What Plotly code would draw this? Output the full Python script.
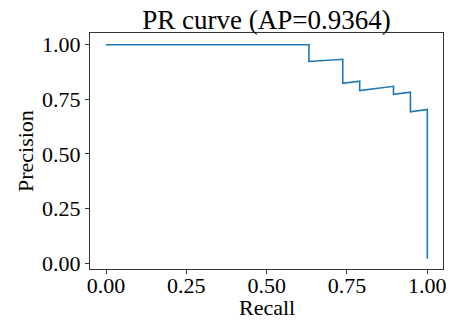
import plotly.graph_objects as go

recall = [0.0, 0.6316, 0.6316, 0.7368, 0.7368, 0.7895, 0.7895, 0.8947, 0.8947, 0.9474, 0.9474, 1.0, 1.0]
precision = [1.0, 1.0, 0.9231, 0.9333, 0.8235, 0.8333, 0.7895, 0.8095, 0.7727, 0.7826, 0.6923, 0.7037, 0.019]
x_ticks = [0.0, 0.25, 0.5, 0.75, 1.0]
y_ticks = [0.0, 0.25, 0.5, 0.75, 1.0]
tick_labels = ["0.00", "0.25", "0.50", "0.75", "1.00"]
title = "PR curve (AP=0.9364)"
x_title = "Recall"
y_title = "Precision"

font = "Liberation Serif, Times New Roman, serif"

fig = go.Figure(go.Scatter(x=recall, y=precision, mode="lines",
                           line=dict(color="#1f77b4", width=1.6), showlegend=False))

axis_common = dict(showgrid=False, zeroline=False, showline=True, linecolor="#333333",
                   linewidth=1, mirror=True, ticks="outside", ticklen=4, tickwidth=1,
                   tickcolor="#333333", automargin=False,
                   tickfont=dict(family=font, size=22, color="black"))

fig.update_layout(
    width=453, height=322,
    margin=dict(l=90, r=10, t=33, b=53),
    paper_bgcolor="white", plot_bgcolor="white",
    title=dict(text=title, x=0.5, xanchor="center", xref="paper",
               y=1, yref="paper", yanchor="bottom", pad=dict(b=4),
               font=dict(family=font, size=27, color="black")),
    xaxis=dict(range=[-0.0498, 1.0488], tickvals=x_ticks, ticktext=tick_labels,
               ticklabelstandoff=-7, **axis_common),
    yaxis=dict(range=[-0.0275, 1.0536], tickvals=y_ticks, ticktext=tick_labels,
               **axis_common),
    annotations=[
        dict(text=x_title, xref="paper", yref="paper", x=0.5, y=-0.226,
             xanchor="center", yanchor="bottom", showarrow=False,
             font=dict(family=font, size=22, color="black")),
        dict(text=y_title, xref="paper", yref="paper", x=-0.184, y=0.5,
             xanchor="center", yanchor="middle", textangle=-90, showarrow=False,
             font=dict(family=font, size=22, color="black")),
    ],
)

fig.write_html("out.html")
